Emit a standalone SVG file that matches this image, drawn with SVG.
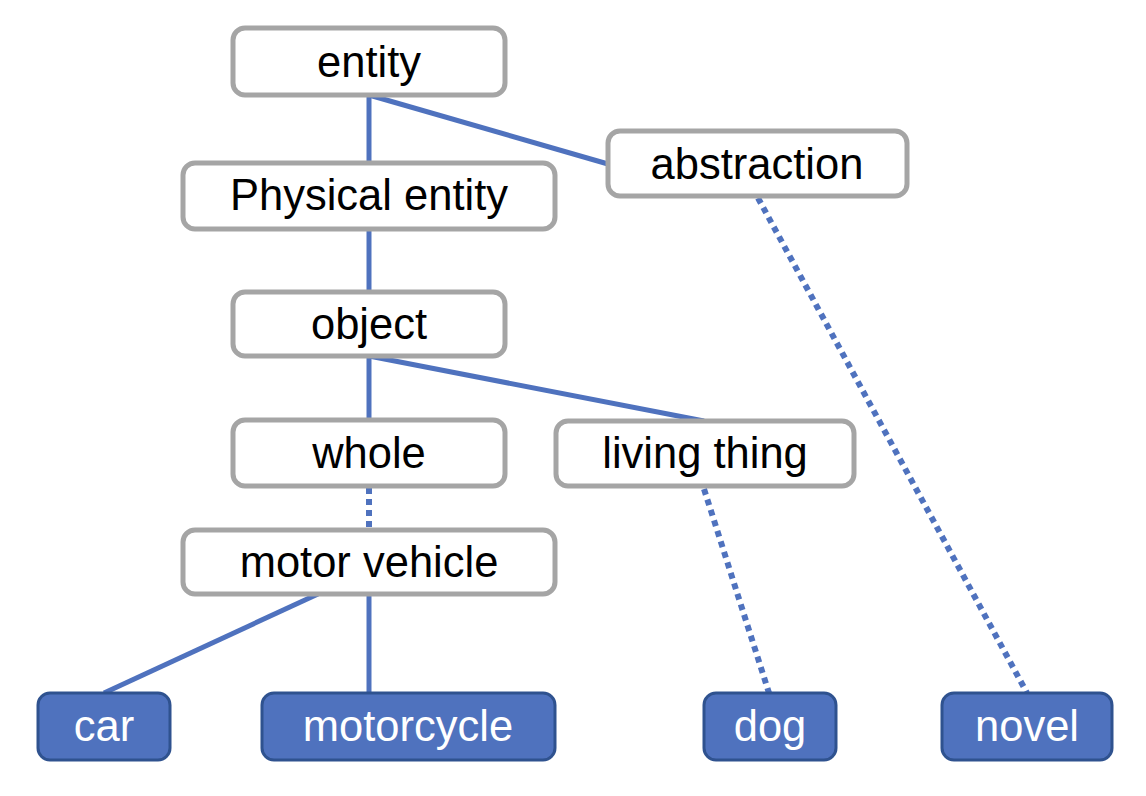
<svg xmlns="http://www.w3.org/2000/svg" width="1146" height="796" viewBox="0 0 1146 796">
<style>
.n rect{fill:#fff;stroke:#A5A5A5;stroke-width:5}
.b rect{fill:#4F72BE;stroke:#2F528F;stroke-width:3}
text{font-family:"Liberation Sans",Arial,sans-serif;font-size:43.5px;text-anchor:middle}
.n text{fill:#000}
.b text{fill:#fff}
.c line{stroke:#4F72BE;stroke-width:5}
.c line.d{stroke-width:6;stroke-dasharray:6 5}
</style>
<rect width="1146" height="796" fill="#fff"/>
<g id="connectors" class="c">
<line x1="369" y1="95" x2="369" y2="163"/>
<line x1="369" y1="95" x2="608" y2="164"/>
<line class="d" x1="758" y1="198" x2="1027" y2="693"/>
<line x1="369" y1="229" x2="369" y2="292"/>
<line x1="369" y1="356" x2="369" y2="420"/>
<line x1="369" y1="356" x2="704" y2="421"/>
<line class="d" x1="369" y1="488" x2="369" y2="530"/>
<line class="d" x1="704" y1="489" x2="769" y2="693"/>
<line x1="318" y1="594" x2="104" y2="693"/>
<line x1="369" y1="594" x2="369" y2="693"/>
</g>
<g id="entity" class="n"><rect x="233" y="28" width="272" height="67" rx="12"/><text x="369" y="77">entity</text></g>
<g id="abstraction" class="n"><rect x="608" y="131" width="299" height="65" rx="12"/><text x="757" y="179">abstraction</text></g>
<g id="physical-entity" class="n"><rect x="183" y="163" width="372" height="66" rx="12"/><text x="369" y="210">Physical entity</text></g>
<g id="object" class="n"><rect x="233" y="292" width="272" height="64" rx="12"/><text x="369" y="339">object</text></g>
<g id="whole" class="n"><rect x="233" y="420" width="272" height="66" rx="12"/><text x="369" y="468">whole</text></g>
<g id="living-thing" class="n"><rect x="556" y="421" width="298" height="65" rx="12"/><text x="705" y="468">living thing</text></g>
<g id="motor-vehicle" class="n"><rect x="183" y="530" width="372" height="64" rx="12"/><text x="369" y="577">motor vehicle</text></g>
<g id="car" class="b"><rect x="38" y="693" width="132" height="67" rx="12"/><text x="104" y="741">car</text></g>
<g id="motorcycle" class="b"><rect x="262" y="693" width="293" height="67" rx="12"/><text x="408" y="741">motorcycle</text></g>
<g id="dog" class="b"><rect x="704" y="693" width="132" height="67" rx="12"/><text x="770" y="741">dog</text></g>
<g id="novel" class="b"><rect x="942" y="693" width="170" height="67" rx="12"/><text x="1027" y="741">novel</text></g>
</svg>
